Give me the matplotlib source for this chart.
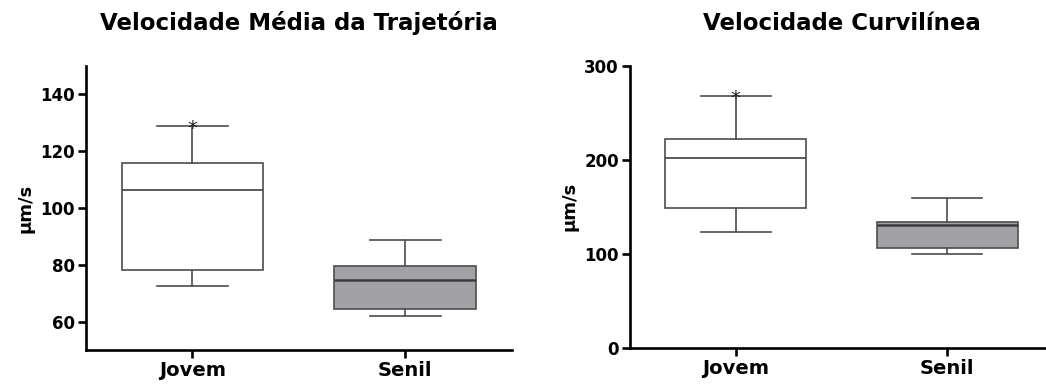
import matplotlib
matplotlib.use("Agg")
import matplotlib.pyplot as plt

plt.rcParams['font.family'] = ['DejaVu Sans']

groups = ["Jovem", "Senil"]

# Velocidade média da trajetória (µm/s): min, Q1, mediana, Q3, max
vap_min = [72.5, 62.0]
vap_q1 = [78.3, 64.4]
vap_med = [106.5, 74.5]
vap_q3 = [115.8, 79.6]
vap_max = [129.0, 88.9]

# Velocidade curvilínea (µm/s)
vcl_min = [123.5, 100.0]
vcl_q1 = [149.0, 106.0]
vcl_med = [202.0, 130.0]
vcl_q3 = [222.0, 134.0]
vcl_max = [268.0, 159.0]

fills = ["white", "#a2a2a6"]
edge = "#4d4d4d"


def stats(mins, q1s, meds, q3s, maxs):
    out = []
    for lo, a, m, b, hi in zip(mins, q1s, meds, q3s, maxs):
        out.append(dict(whislo=lo, q1=a, med=m, q3=b, whishi=hi, fliers=[]))
    return out


def draw(ax, st, title, ylim, yticks, star_y, title_pad):
    bp = ax.bxp(st, positions=[1, 2], widths=0.665, patch_artist=True,
                showfliers=False,
                boxprops=dict(edgecolor=edge, linewidth=1.2),
                whiskerprops=dict(color=edge, linewidth=1.2),
                capprops=dict(color=edge, linewidth=1.2),
                medianprops=dict(color=edge, linewidth=1.3))
    for patch, fc in zip(bp['boxes'], fills):
        patch.set_facecolor(fc)
    bp['medians'][1].set_color("#3c3c3c")
    bp['medians'][1].set_linewidth(1.8)
    ax.annotate("*", xy=(1, star_y), xytext=(0, -9), textcoords="offset points",
                ha="center", va="bottom", fontsize=14, color="#222222")
    ax.set_xlim(0.5, 2.5)
    ax.set_ylim(*ylim)
    ax.set_yticks(yticks)
    ax.set_xticks([1, 2])
    ax.set_xticklabels(groups, fontsize=14, fontweight="bold")
    for lab in ax.get_yticklabels():
        lab.set_fontsize(12)
        lab.set_fontweight("bold")
    ax.set_ylabel("µm/s", fontsize=13, fontweight="bold")
    ax.spines['top'].set_visible(False)
    ax.spines['right'].set_visible(False)
    for s in ('left', 'bottom'):
        ax.spines[s].set_linewidth(1.9)
    ax.tick_params(axis='both', direction='out', length=6, width=1.9, pad=2)
    ax.set_title(title, fontsize=16.5, fontweight="bold", pad=title_pad)


fig = plt.figure(figsize=(10.46, 3.85), dpi=100)
ax1 = fig.add_axes([0.0822, 0.0909, 0.4070, 0.7377])
ax2 = fig.add_axes([0.6023, 0.0969, 0.4044, 0.7325])

draw(ax1, stats(vap_min, vap_q1, vap_med, vap_q3, vap_max),
     "Velocidade Média da Trajetória", (50, 150), [60, 80, 100, 120, 140],
     vap_max[0], 26)
draw(ax2, stats(vcl_min, vcl_q1, vcl_med, vcl_q3, vcl_max),
     "Velocidade Curvilínea", (0, 300), [0, 100, 200, 300],
     vcl_max[0], 26)

fig.savefig("out.png", dpi=100)
